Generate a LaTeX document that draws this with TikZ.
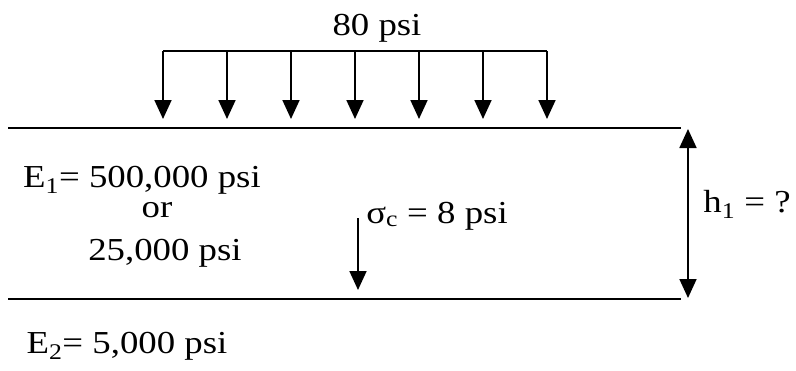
\documentclass[tikz,border=0pt]{standalone}
\usepackage{fontspec}
\setmainfont{Liberation Serif}[FakeStretch=1.15]
\usetikzlibrary{arrows.meta}
\tikzset{
  layer/.style={line width=1.8pt},
  load/.style={line width=1.8pt, -{Triangle[length=19pt,width=17pt]}},
  dimline/.style={line width=1.8pt, {Triangle[length=19pt,width=17pt]}-{Triangle[length=19pt,width=17pt]}},
  lbl/.style={font=\fontsize{32}{38}\selectfont, inner sep=0pt, anchor=base},
}
\begin{document}
\begin{tikzpicture}[x=1pt, y=-1pt]
    % --- parameters ---
    \def\xL{8}        % left end of the layer lines
    \def\xR{681}      % right end of the layer lines
    \def\yTop{128}    % top of layer 1
    \def\yBot{299}    % bottom of layer 1
    \def\yLoad{51}    % load bar
    \useasboundingbox (0,0) rectangle (796,370);

    % --- surface load ---
    \node[lbl] (p) at (377,35) {80 psi};
    \coordinate (qL) at (163,\yLoad);
    \coordinate (qR) at (547,\yLoad);
    \draw[layer] (qL) -- (qR);
    \foreach \x [count=\i] in {163,227,291,355,419,483,547} {
        \coordinate (q\i) at (\x,\yLoad);
        \coordinate (t\i) at (\x,119);
        \draw[load] (q\i) -- (t\i);
    }

    % --- layer boundaries ---
    \coordinate (topL) at (\xL,\yTop);
    \coordinate (topR) at (\xR,\yTop);
    \coordinate (botL) at (\xL,\yBot);
    \coordinate (botR) at (\xR,\yBot);
    \draw[layer] (topL) -- (topR);
    \draw[layer] (botL) -- (botR);

    % --- thickness h1 ---
    \coordinate (hT) at (688,\yTop+1);
    \coordinate (hB) at (688,\yBot-1);
    \draw[dimline] (hT) -- (hB);
    \node[lbl] (h) at (747,212) {h\textsubscript{1} = ?};

    % --- moduli ---
    \node[lbl] (E1) at (142,187) {E\textsubscript{1}= 500,000 psi};
    \node[lbl] (or) at (157,217) {or};
    \node[lbl] (E1b) at (165,260) {25,000 psi};
    \node[lbl] (E2) at (127,353) {E\textsubscript{2}= 5,000 psi};

    % --- stress at interface ---
    \node[lbl] (s) at (437,223) {σ\textsubscript{c} = 8 psi};
    \coordinate (sT) at (358,218);
    \coordinate (sB) at (358,290);
    \draw[load] (sT) -- (sB);

\end{tikzpicture}
\end{document}
